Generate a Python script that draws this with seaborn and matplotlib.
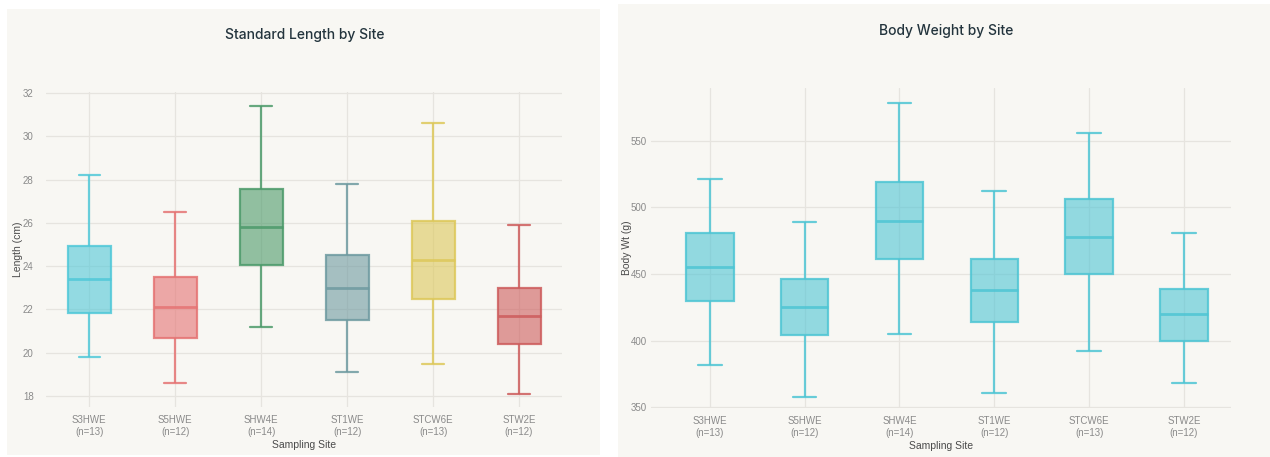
import numpy as np
import pandas as pd
import matplotlib
matplotlib.use("Agg")
import matplotlib.pyplot as plt
import seaborn as sns
from matplotlib.colors import to_rgba
from matplotlib.patches import Rectangle

# ---------------- data ----------------
sites = ["S3HWE", "S5HWE", "SHW4E", "ST1WE", "STCW6E", "STW2E"]
counts = [13, 12, 14, 12, 13, 12]

len_min = [19.8, 18.6, 21.2, 19.1, 19.5, 18.1]
len_q1 = [21.85, 20.7, 24.05, 21.5, 22.5, 20.4]
len_med = [23.4, 22.1, 25.8, 23.0, 24.3, 21.7]
len_q3 = [24.95, 23.5, 27.55, 24.5, 26.1, 23.0]
len_max = [28.2, 26.5, 31.4, 27.8, 30.6, 25.9]

wt_min = [382, 358, 405, 361, 392, 368]
wt_q1 = [430, 404, 461, 414, 450, 400]
wt_med = [455, 425, 490, 438, 478, 420]
wt_q3 = [481, 446, 519, 461, 506, 439]
wt_max = [521, 489, 578, 512, 556, 481]

len_ticks = [18, 20, 22, 24, 26, 28, 30, 32]
wt_ticks = [350, 400, 450, 500, 550]
tick_labels = [f"{s}\n(n={n})" for s, n in zip(sites, counts)]

len_colors = ["#50c8d8", "#e57373", "#4c9a6a", "#6e9aa0", "#ddc85a", "#cd5c5c"]
wt_colors = ["#4ec5d4"] * 6


def long_table(mins, q1s, meds, q3s, maxs):
    rows = []
    for s, a, b, c, d, e in zip(sites, mins, q1s, meds, q3s, maxs):
        for v in (a, b, c, d, e):
            rows.append({"site": s, "value": v})
    return pd.DataFrame(rows)


len_df = long_table(len_min, len_q1, len_med, len_q3, len_max)
wt_df = long_table(wt_min, wt_q1, wt_med, wt_q3, wt_max)

# ---------------- style ----------------
sns.set_style("white")
plt.rcParams["font.family"] = ["Liberation Sans", "DejaVu Sans"]

BG = "#f8f7f3"
GRID = "#e6e4df"

fig = plt.figure(figsize=(12.7, 4.57), dpi=100, facecolor="white")
H = 457.0
W = 1270.0

# panel backgrounds
fig.add_artist(Rectangle((7 / W, 1 - 455 / H), 593 / W, 446 / H,
                         transform=fig.transFigure, facecolor=BG,
                         edgecolor="none", zorder=-5))
fig.add_artist(Rectangle((618 / W, 0), 652 / W, 453 / H,
                         transform=fig.transFigure, facecolor=BG,
                         edgecolor="none", zorder=-5))


def make_axes(px_left, px_right, px_top, px_bottom):
    return fig.add_axes([px_left / W, 1 - px_bottom / H,
                         (px_right - px_left) / W, (px_bottom - px_top) / H])


def draw(ax, df, colors, ticks, ylim, xlim, ylabel, ypad, ylabelpad):
    ax.set_facecolor("none")
    for s, c in zip(sites, colors):
        sns.boxplot(data=df[df["site"] == s], x="site", y="value",
                    order=sites, color=c, linecolor=c, saturation=1,
                    width=0.5, whis=(0, 100), linewidth=1.6, fliersize=0,
                    medianprops={"linewidth": 2.0}, ax=ax)
    for patch, c in zip(ax.patches, colors):
        patch.set_facecolor(to_rgba(c, 0.6))
        patch.set_edgecolor(to_rgba(c, 0.85))
    for ln in ax.lines:
        ln.set_alpha(0.85)
    ax.set_xlim(*xlim)
    ax.set_ylim(*ylim)
    ax.set_yticks(ticks)
    ax.set_yticklabels([str(t) for t in ticks])
    ax.set_xticks(range(len(sites)))
    ax.set_xticklabels(tick_labels, linespacing=1.2)
    ax.tick_params(axis="both", length=0, labelsize=7, labelcolor="#8a8a8a")
    ax.tick_params(axis="x", pad=6)
    ax.tick_params(axis="y", pad=ypad)
    ax.grid(True, color=GRID, linewidth=0.9)
    ax.set_axisbelow(True)
    for sp in ax.spines.values():
        sp.set_visible(False)
    ax.set_xlabel("Sampling Site", fontsize=7.5, color="#4a4a4a", labelpad=2)
    ax.set_ylabel(ylabel, fontsize=7.5, color="#4a4a4a", labelpad=ylabelpad)


ax1 = make_axes(46.3, 562, 92, 407)
draw(ax1, len_df, len_colors, len_ticks, (17.49, 32.05), (-0.5, 5.5),
     "Length (cm)", 9, 0)

ax2 = make_axes(651, 1231.4, 88, 408)
draw(ax2, wt_df, wt_colors, wt_ticks, (349.6, 589.5), (-0.62, 5.5),
     "Body Wt (g)", 3, -1)

fig.text(305 / W, 1 - 35 / H, "Standard Length by Site", ha="center", va="center",
         fontsize=10, color="#23343d", fontweight="medium",
         family=["Inter", "Liberation Sans"])
fig.text(946 / W, 1 - 31 / H, "Body Weight by Site", ha="center", va="center",
         fontsize=10, color="#23343d", fontweight="medium",
         family=["Inter", "Liberation Sans"])

fig.savefig("out.png", dpi=100, facecolor="white")
